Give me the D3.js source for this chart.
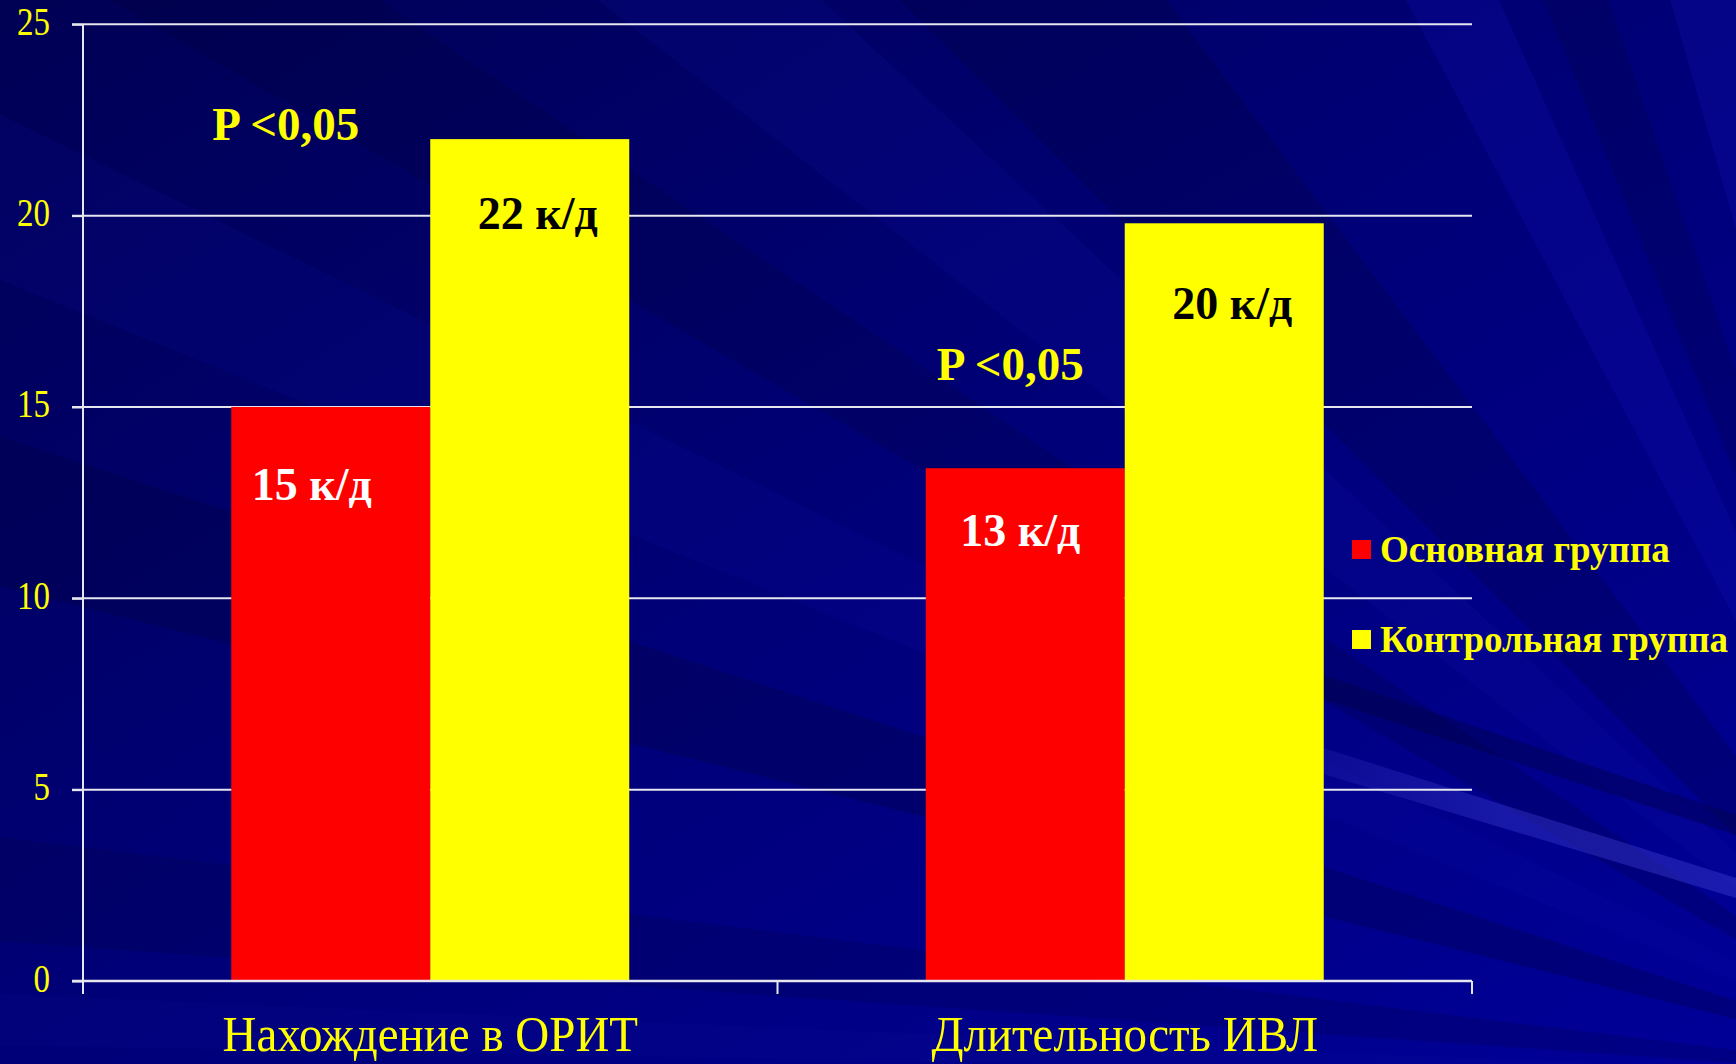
<!DOCTYPE html>
<html>
<head>
<meta charset="utf-8">
<script src="https://cdn.jsdelivr.net/npm/d3@7"></script>
<style>
  html, body { margin: 0; padding: 0; background: #00007a; }
  svg { display: block; }
</style>
</head>
<body>
<svg id="chart" width="1736" height="1064"></svg>
<script>
// ---- data ----
const categories = ["Нахождение в ОРИТ", "Длительность ИВЛ"];
const seriesNames = ["Основная группа", "Контрольная группа"];
const mainValues = [15, 13.4];
const controlValues = [22, 19.8];
const mainLabels = ["15 к/д", "13 к/д"];
const controlLabels = ["22 к/д", "20 к/д"];
const pLabels = ["P <0,05", "P <0,05"];
const yTicks = [0, 5, 10, 15, 20, 25];

// ---- layout ----
const W = 1736, H = 1064;
const plotLeft = 83, plotRight = 1472, plotTop = 24.3, plotBottom = 981;
const serif = "'Liberation Serif', 'Times New Roman', 'DejaVu Serif', serif";
const colors = ["#ff0000", "#ffff00"];

const svg = d3.select("#chart");

// ---- background ----
const defs = svg.append("defs");
const bg = defs.append("linearGradient").attr("id", "bg")
  .attr("x1", "0").attr("y1", "0").attr("x2", "1").attr("y2", "1");
bg.append("stop").attr("offset", "0").attr("stop-color", "#000054");
bg.append("stop").attr("offset", "0.5").attr("stop-color", "#000078");
bg.append("stop").attr("offset", "1").attr("stop-color", "#000098");
svg.append("rect").attr("width", W).attr("height", H).attr("fill", "url(#bg)");

const fade = defs.append("linearGradient").attr("id", "fade")
  .attr("gradientUnits", "userSpaceOnUse")
  .attr("x1", 1250).attr("y1", 0).attr("x2", 1736).attr("y2", 0);
fade.append("stop").attr("offset", "0").attr("stop-color", "#3c3cd0").attr("stop-opacity", 0.1);
fade.append("stop").attr("offset", "0.5").attr("stop-color", "#3c3cd0").attr("stop-opacity", 0.4);
fade.append("stop").attr("offset", "1").attr("stop-color", "#3c3cd0").attr("stop-opacity", 0.45);

// decorative rays from a focus beyond the lower right
const F = [1980, 1080];
const rays = [
  [-118, -114, "rgba(20,20,190,0.22)"],
  [-112, -109, "rgba(0,0,60,0.22)"],
  [-106, -101, "rgba(25,25,200,0.20)"],
  [-99, -96, "rgba(0,0,70,0.20)"],
  [-94, -90, "rgba(20,20,190,0.18)"],
  [-135, -127, "rgba(0,0,50,0.22)"],
  [-142, -137, "rgba(20,20,180,0.14)"],
  [-150, -146, "rgba(0,0,50,0.20)"],
  [-158, -154, "rgba(20,20,180,0.12)"],
  [-166, -162, "rgba(0,0,50,0.25)"],
  [-176, -173, "rgba(0,0,60,0.20)"],
  [-179, -177.5, "rgba(20,20,160,0.12)"]
];
const R = 3000;
svg.append("g").selectAll("path").data(rays).join("path")
  .attr("d", d => {
    const a1 = d[0] * Math.PI / 180, a2 = d[1] * Math.PI / 180;
    return `M${F[0]},${F[1]}L${F[0] + R * Math.cos(a1)},${F[1] + R * Math.sin(a1)}L${F[0] + R * Math.cos(a2)},${F[1] + R * Math.sin(a2)}Z`;
  })
  .attr("fill", d => d[2]);
// light streak at the lower right and a darker one above it
svg.append("path").attr("d", "M1250,725L1736,878L1736,898L1250,752Z").attr("fill", "url(#fade)");
svg.append("path").attr("d", "M1250,650L1736,815L1736,835L1250,675Z").attr("fill", "rgba(0,0,60,0.35)");

// ---- scales ----
const y = d3.scaleLinear().domain([0, 25]).range([plotBottom, plotTop]);
const x0 = d3.scaleBand().domain(categories).range([plotLeft, plotRight]).padding(0);
const x1 = d3.scaleBand().domain(seriesNames).range([0, x0.bandwidth()])
  .paddingInner(0).paddingOuter(0.745);

// ---- gridlines ----
svg.append("g").selectAll("line").data(yTicks.filter(t => t > 0)).join("line")
  .attr("x1", plotLeft - 11).attr("x2", plotRight)
  .attr("y1", d => y(d)).attr("y2", d => y(d))
  .attr("stroke", "#e6e6f0").attr("stroke-width", 2);

// ---- bars ----
const rows = categories.map((c, i) => ({ cat: c, vals: [mainValues[i], controlValues[i]] }));
const g = svg.append("g").selectAll("g").data(rows).join("g")
  .attr("transform", d => `translate(${x0(d.cat)},0)`);
g.selectAll("rect").data(d => d.vals.map((v, j) => ({ v, s: seriesNames[j], j }))).join("rect")
  .attr("x", d => x1(d.s))
  .attr("width", x1.bandwidth())
  .attr("y", d => y(d.v))
  .attr("height", d => y(0) - y(d.v))
  .attr("fill", d => colors[d.j]);

// ---- axes ----
const yAxis = d3.axisLeft(y).tickValues(yTicks).tickSize(11).tickPadding(22).tickFormat(d3.format("d"));
const ya = svg.append("g").attr("transform", `translate(${plotLeft},0)`).call(yAxis);
ya.select(".domain").remove();
ya.selectAll(".tick line").attr("stroke", "#e6e6f0").attr("stroke-width", 2);
ya.selectAll(".tick text")
  .attr("fill", "#ffff00")
  .attr("x", null).attr("dy", null)
  .style("font-family", serif).style("font-size", "33px")
  .attr("transform", "translate(-33,10) scale(1,1.2)");

svg.append("line").attr("x1", plotLeft).attr("x2", plotLeft).attr("y1", plotTop).attr("y2", plotBottom + 13)
  .attr("stroke", "#e6e6f0").attr("stroke-width", 2);
svg.append("line").attr("x1", plotLeft - 11).attr("x2", plotRight).attr("y1", plotBottom).attr("y2", plotBottom)
  .attr("stroke", "#e6e6f0").attr("stroke-width", 2.5);
const catEdges = [plotLeft, ...categories.map(c => x0(c) + x0.bandwidth())];
svg.append("g").selectAll("line").data(catEdges).join("line")
  .attr("x1", d => d).attr("x2", d => d).attr("y1", plotBottom).attr("y2", plotBottom + 13)
  .attr("stroke", "#e6e6f0").attr("stroke-width", 2);

svg.append("g").selectAll("text").data(categories).join("text")
  .attr("transform", d => `translate(${x0(d) + x0.bandwidth() / 2},1051) scale(1,1.1)`)
  .attr("text-anchor", "middle")
  .attr("fill", "#ffff00")
  .style("font-family", serif).style("font-size", "47px")
  .text(d => d);

// ---- value labels ----
const mainDx = [-19, -5], mainDy = [93, 78];
const ctrlDx = [8, 8], ctrlDy = [90, 96];
svg.append("g").selectAll("text").data(mainLabels).join("text")
  .attr("x", (d, i) => x0(categories[i]) + x1(seriesNames[0]) + x1.bandwidth() / 2 + mainDx[i])
  .attr("y", (d, i) => y(mainValues[i]) + mainDy[i])
  .attr("text-anchor", "middle").attr("fill", "#ffffff")
  .style("font-family", serif).style("font-size", "46px").style("font-weight", "bold")
  .text(d => d);
svg.append("g").selectAll("text").data(controlLabels).join("text")
  .attr("x", (d, i) => x0(categories[i]) + x1(seriesNames[1]) + x1.bandwidth() / 2 + ctrlDx[i])
  .attr("y", (d, i) => y(controlValues[i]) + ctrlDy[i])
  .attr("text-anchor", "middle").attr("fill", "#000000")
  .style("font-family", serif).style("font-size", "46px").style("font-weight", "bold")
  .text(d => d);

// ---- significance labels ----
const pDx = [-45, -15], pDy = [1, -88];
svg.append("g").selectAll("text").data(pLabels).join("text")
  .attr("x", (d, i) => x0(categories[i]) + x1(seriesNames[0]) + x1.bandwidth() / 2 + pDx[i])
  .attr("y", (d, i) => (i === 0 ? y(controlValues[i]) : y(mainValues[i])) + pDy[i])
  .attr("text-anchor", "middle").attr("fill", "#ffff00")
  .style("font-family", serif).style("font-size", "47px").style("font-weight", "bold")
  .text(d => d);

// ---- legend ----
const lg = svg.append("g").selectAll("g").data(seriesNames).join("g")
  .attr("transform", (d, i) => `translate(1352,${540 + i * 90})`);
lg.append("rect").attr("width", 19).attr("height", 19).attr("fill", (d, i) => colors[i]);
lg.append("text").attr("x", 28).attr("y", 22)
  .attr("fill", "#ffff00")
  .style("font-family", serif).style("font-size", "37px").style("font-weight", "bold")
  .text(d => d);
</script>
</body>
</html>
